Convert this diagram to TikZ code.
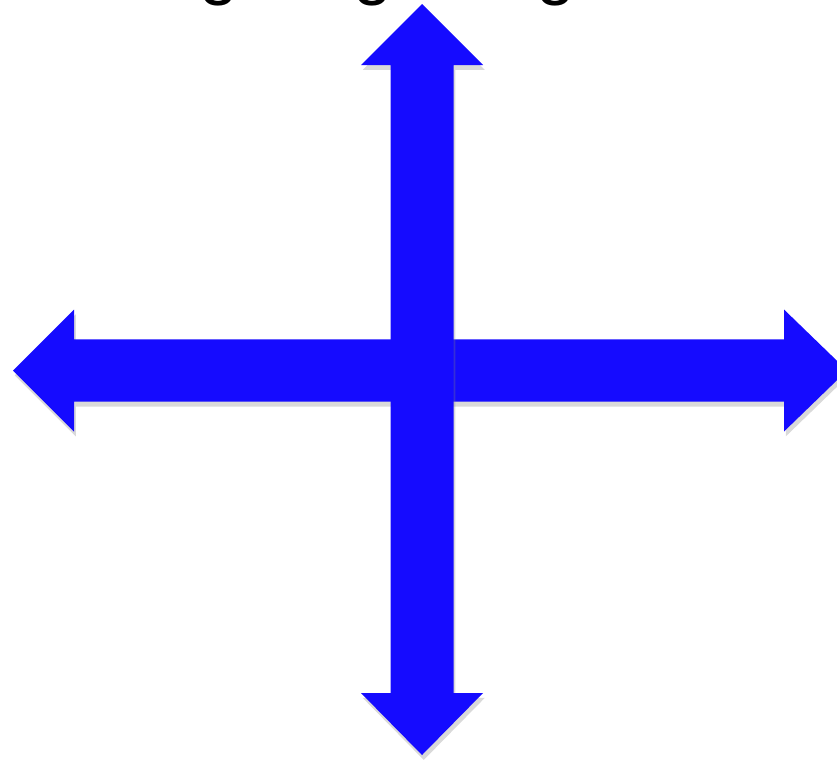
\documentclass[tikz,border=0pt]{standalone}
\usepackage{fontspec}
\setmainfont{Liberation Sans}
\usetikzlibrary{shadows}
\definecolor{arrowblue}{RGB}{21,11,255}

\begin{document}
\begin{tikzpicture}[
  x=1cm, y=1cm,
  bigarrow/.style={fill=arrowblue, drop shadow={opacity=0.3, shadow xshift=0.5pt, shadow yshift=-1.4pt}},
  cut/.style={font=\fontsize{20}{24}\selectfont, inner sep=0pt, anchor=base}
]
\useasboundingbox (0,0) rectangle (8.37,7.61);
\clip (0,0) rectangle (8.37,7.61);

% Title (only the lower part shows)
\node[cut] (g1) at (2.19,7.70) {g};
\node[cut] (g2) at (3.73,7.70) {g};
\node[cut] (g3) at (5.56,7.70) {g};

% Horizontal arrow
\fill[bigarrow] (0.13,3.905) -- (0.74,4.515) -- (0.74,4.217) -- (7.84,4.217)
  -- (7.84,4.515) -- (8.47,3.905) -- (7.84,3.295) -- (7.84,3.593)
  -- (0.74,3.593) -- (0.74,3.295) -- cycle;

% Vertical arrow
\fill[bigarrow] (4.22,7.57) -- (4.83,6.96) -- (4.535,6.96) -- (4.535,0.68)
  -- (4.83,0.68) -- (4.22,0.06) -- (3.61,0.68) -- (3.905,0.68)
  -- (3.905,6.96) -- (3.61,6.96) -- cycle;

\end{tikzpicture}
\end{document}
